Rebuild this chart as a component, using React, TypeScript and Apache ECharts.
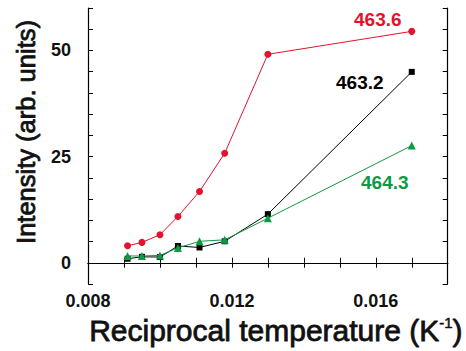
import React, { useEffect, useRef } from "react";
import * as echarts from "echarts";

const xValues = [0.0091, 0.0095, 0.0100, 0.0105, 0.0111, 0.0118, 0.0130, 0.0170];
const red4636 = [4.0, 4.8, 6.6, 10.9, 16.8, 25.8, 49.1, 54.5];
const black4632 = [0.95, 1.4, 1.35, 3.95, 3.6, 5.06, 11.45, 44.96];
const green4643 = [1.6, 1.6, 1.74, 3.5, 5.06, 5.4, 10.5, 27.6];
const seriesNames = ["463.6", "463.2", "464.3"];
const xLabelValues = [0.008, 0.012, 0.016];
const yLabelValues = [0, 25, 50];

const FONT = "Liberation Sans, Arial, Helvetica, sans-serif";

export default function App() {
  const ref = useRef<HTMLDivElement>(null);
  useEffect(() => {
    const chart = echarts.init(ref.current!, null, { renderer: "svg" });
    const mk = (
      name: string,
      ys: number[],
      color: string,
      symbol: string,
      size: number,
      offset: number[],
      z: number
    ) => ({
      name,
      type: "line",
      z,
      symbol,
      symbolSize: size,
      lineStyle: { color, width: 1 },
      itemStyle: { color },
      data: xValues.map((x, i) => {
        const item: any = { value: [x, ys[i]] };
        if (i === xValues.length - 1) {
          item.label = {
            show: true,
            position: "inside",
            offset,
            formatter: name,
            color,
            fontSize: 19,
            fontWeight: "bold",
            fontFamily: FONT,
          };
        }
        return item;
      }),
    });
    const axisLine = { show: true, lineStyle: { color: "#000", width: 1.2 } };
    const tick = { show: true, inside: true, length: 5, lineStyle: { color: "#000", width: 1 } };
    chart.setOption({
      animation: false,
      backgroundColor: "#fff",
      grid: { left: 88, right: 13, top: 8, bottom: 67, containLabel: false },
      xAxis: [
        {
          type: "value",
          min: 0.008,
          max: 0.018,
          interval: 0.001,
          axisLine,
          axisTick: tick,
          splitLine: { show: false },
          axisLabel: {
            margin: 8,
            color: "#111",
            fontSize: 18,
            fontWeight: "bold",
            fontFamily: FONT,
            formatter: (v: number) =>
              xLabelValues.some((l) => Math.abs(l - v) < 1e-7) ? v.toFixed(3) : "",
          },
          name: "Reciprocal temperature (K{sup|-1})",
          nameLocation: "middle",
          nameGap: 28,
          nameTextStyle: {
            color: "#111",
            fontSize: 30,
            fontFamily: FONT,
            textBorderColor: "#111",
            textBorderWidth: 0.8,
            padding: [0, 0, 0, 16],
            rich: {
              sup: {
                fontSize: 15,
                fontFamily: FONT,
                color: "#111",
                textBorderColor: "#111",
                textBorderWidth: 0.5,
                verticalAlign: "top",
                padding: [0, 0, 14, 0],
              },
            },
          },
        },
        {
          type: "value",
          position: "top",
          min: 0.008,
          max: 0.018,
          interval: 0.001,
          axisLine,
          axisTick: tick,
          axisLabel: { show: false },
          splitLine: { show: false },
        },
      ],
      yAxis: [
        {
          type: "value",
          min: -5,
          max: 60,
          interval: 5,
          axisLine,
          axisTick: tick,
          splitLine: { show: false },
          axisLabel: {
            margin: 17,
            color: "#111",
            fontSize: 18,
            fontWeight: "bold",
            fontFamily: FONT,
            formatter: (v: number) =>
              yLabelValues.some((l) => Math.abs(l - v) < 1e-7) ? String(Math.round(v)) : "",
          },
          name: "Intensity (arb. units)",
          nameLocation: "middle",
          nameGap: 49,
          nameTextStyle: {
            color: "#111",
            fontSize: 25.5,
            fontFamily: FONT,
            textBorderColor: "#111",
            textBorderWidth: 0.8,
            padding: [0, 0, 0, 28],
          },
        },
        {
          type: "value",
          position: "right",
          min: -5,
          max: 60,
          interval: 5,
          axisLine,
          axisTick: tick,
          axisLabel: { show: false },
          splitLine: { show: false },
        },
      ],
      series: [
        mk(seriesNames[0], red4636, "#e3122f", "circle", 7, [-34, -12], 3),
        mk(seriesNames[1], black4632, "#000000", "rect", 6, [-52, 11], 4),
        mk(seriesNames[2], green4643, "#0d9a45", "triangle", 8, [-27, 37], 5),
      ],
    });
    return () => chart.dispose();
  }, []);
  return (
    <div
      ref={ref}
      style={{ position: "absolute", left: 0, top: 0, width: 466, height: 351 }}
    />
  );
}
